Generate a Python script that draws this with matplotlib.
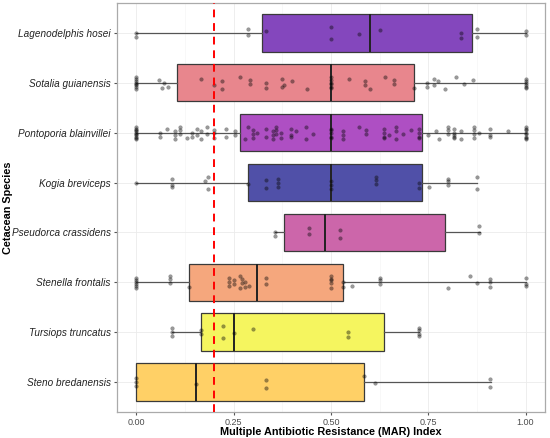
import numpy as np
import matplotlib.pyplot as plt
from matplotlib.ticker import MultipleLocator

plt.rcParams['font.family'] = ['Liberation Sans', 'DejaVu Sans']

species = ['Lagenodelphis hosei', 'Sotalia guianensis', 'Pontoporia blainvillei',
           'Kogia breviceps', 'Pseudorca crassidens', 'Stenella frontalis',
           'Tursiops truncatus', 'Steno bredanensis']
colors = ['#8447BD', '#E8868D', '#AE4FC3', '#5050A8',
          '#CC66AA', '#F5A77D', '#F5F55F', '#FFD066']

# box stats: whislo, q1, med, q3, whishi
whislo = [0.0, 0.0, 0.0, 0.0, 0.357, 0.0, 0.091, 0.0]
q1 = [0.323, 0.105, 0.267, 0.286, 0.379, 0.134, 0.167, 0.0]
med = [0.600, 0.500, 0.500, 0.500, 0.484, 0.309, 0.251, 0.154]
q3 = [0.862, 0.714, 0.733, 0.733, 0.793, 0.530, 0.637, 0.584]
whishi = [1.0, 1.0, 1.0, 0.875, 0.882, 1.0, 0.727, 0.910]

mar_lage = [0, 0, 0.286, 0.286, 0.333, 0.5, 0.5, 0.571, 0.625, 0.833, 0.833,
            0.875, 0.875, 1, 1]
mar_sota = [0]*8 + [0.059, 0.065, 0.07, 0.081, 0.166, 0.2, 0.221, 0.221, 0.266,
            0.291, 0.291, 0.333, 0.333, 0.374, 0.374, 0.38, 0.4, 0.438] + [0.5]*6 + \
           [0.546, 0.587, 0.587, 0.6, 0.638, 0.662, 0.662, 0.714, 0.748, 0.748,
            0.764, 0.764, 0.776, 0.794, 0.82, 0.842, 0.865] + [1]*6
mar_pont = [0]*10 + [0.061, 0.061, 0.078, 0.099, 0.099, 0.099, 0.112, 0.112, 0.112,
            0.129, 0.142, 0.142, 0.155, 0.155, 0.167, 0.167, 0.182, 0.182, 0.2, 0.2,
            0.2, 0.231, 0.231, 0.253, 0.253, 0.279, 0.287, 0.3, 0.3, 0.3, 0.31,
            0.334, 0.334, 0.351, 0.351, 0.351, 0.359, 0.359, 0.359, 0.372, 0.372,
            0.398, 0.398, 0.398, 0.41, 0.436, 0.436, 0.453] + [0.5]*5 + \
           [0.53, 0.53, 0.53, 0.571, 0.59, 0.59, 0.637, 0.637, 0.637, 0.637, 0.648,
            0.667, 0.667, 0.667, 0.686, 0.706, 0.727, 0.727, 0.727, 0.727, 0.75,
            0.77, 0.778, 0.8, 0.8, 0.8, 0.817, 0.817, 0.817, 0.817, 0.817, 0.833,
            0.833, 0.868, 0.868, 0.868, 0.868, 0.88, 0.909, 0.909, 0.909, 0.954] + [1]*8
mar_kogi = [0, 0.091, 0.091, 0.091, 0.176, 0.183, 0.183, 0.287, 0.334, 0.334,
            0.364, 0.364, 0.364, 0.5, 0.5, 0.5, 0.616, 0.616, 0.616, 0.727, 0.727,
            0.752, 0.8, 0.8, 0.8, 0.874, 0.874]
mar_pseu = [0.357, 0.357, 0.444, 0.444, 0.524, 0.524, 0.88, 0.88]
mar_sten = [0]*6 + [0.085, 0.085, 0.085, 0.134, 0.238, 0.238, 0.238, 0.25, 0.25,
            0.265, 0.265, 0.272, 0.272, 0.28, 0.28, 0.289, 0.333, 0.333] + [0.5]*5 + \
           [0.53, 0.53, 0.554, 0.625, 0.625, 0.625, 0.8, 0.857, 0.874, 0.909,
            0.909, 0.909, 1, 1, 1]
mar_turs = [0.091, 0.091, 0.091, 0.167, 0.167, 0.222, 0.222, 0.25, 0.3, 0.545,
            0.545, 0.727, 0.727, 0.727, 0.727]
mar_sten2 = [0, 0, 0, 0.154, 0.333, 0.333, 0.584, 0.614, 0.909, 0.909]
points = [mar_lage, mar_sota, mar_pont, mar_kogi, mar_pseu, mar_sten, mar_turs, mar_sten2]

fig = plt.figure(figsize=(5.5, 4.38), dpi=100)
ax = fig.add_axes([0.2127, 0.0594, 0.7782, 0.9338])

ax.xaxis.set_major_locator(MultipleLocator(0.25))
ax.xaxis.set_minor_locator(MultipleLocator(0.125))
ax.grid(which='major', color='#EBEBEB', lw=0.6)
ax.grid(which='minor', axis='x', color='#F4F4F4', lw=0.4)
ax.set_axisbelow(True)

stats = []
for i in range(len(species)):
    stats.append(dict(whislo=whislo[i], q1=q1[i], med=med[i], q3=q3[i],
                      whishi=whishi[i], fliers=[]))
pos = np.arange(1, len(species) + 1)
bp = ax.bxp(stats, positions=pos, vert=False, widths=0.75, patch_artist=True,
            showcaps=False,
            boxprops=dict(edgecolor='#3A3A3A', lw=0.9),
            medianprops=dict(color='#222222', lw=1.4),
            whiskerprops=dict(color='#555555', lw=0.9))
for patch, c in zip(bp['boxes'], colors):
    patch.set_facecolor(c)

# fixed jitter pattern for the points
jit = [0.0, 0.08, -0.08, 0.04, -0.04, 0.12, -0.12, 0.02, -0.06, 0.1]
for i, vals in enumerate(points):
    ys = [pos[i] + jit[k % len(jit)] for k in range(len(vals))]
    ax.scatter(vals, ys, s=7, color='black', alpha=0.4, lw=0.3,
               edgecolors='#333333', zorder=4)

ax.axvline(0.2, color='red', ls=(0, (4, 3)), lw=1.4, zorder=5)

ax.set_xlim(-0.05, 1.05)
ax.set_ylim(8.6, 0.4)
ax.set_xticks([0, 0.25, 0.5, 0.75, 1.0])
ax.set_xticklabels(['0.00', '0.25', '0.50', '0.75', '1.00'], fontsize=6.5, color='#4D4D4D')
ax.set_yticks(pos)
ax.set_yticklabels(species, fontsize=7.2, style='italic', color='#222222')
ax.tick_params(axis='both', length=2.5, color='#555555', pad=2)
ax.tick_params(axis='x', which='minor', length=0)
for s in ax.spines.values():
    s.set_color('#AAAAAA')
    s.set_linewidth(0.9)

ax.set_xlabel('Multiple Antibiotic Resistance (MAR) Index', fontsize=7.8,
              fontweight='bold')
ax.set_ylabel('Cetacean Species', fontsize=7.8, fontweight='bold')
ax.xaxis.set_label_coords(0.5, -0.048)
ax.yaxis.set_label_coords(-0.255, 0.5)
ax.xaxis.label.set_va('center')
ax.yaxis.label.set_va('center')

fig.savefig('out.png', dpi=100)
